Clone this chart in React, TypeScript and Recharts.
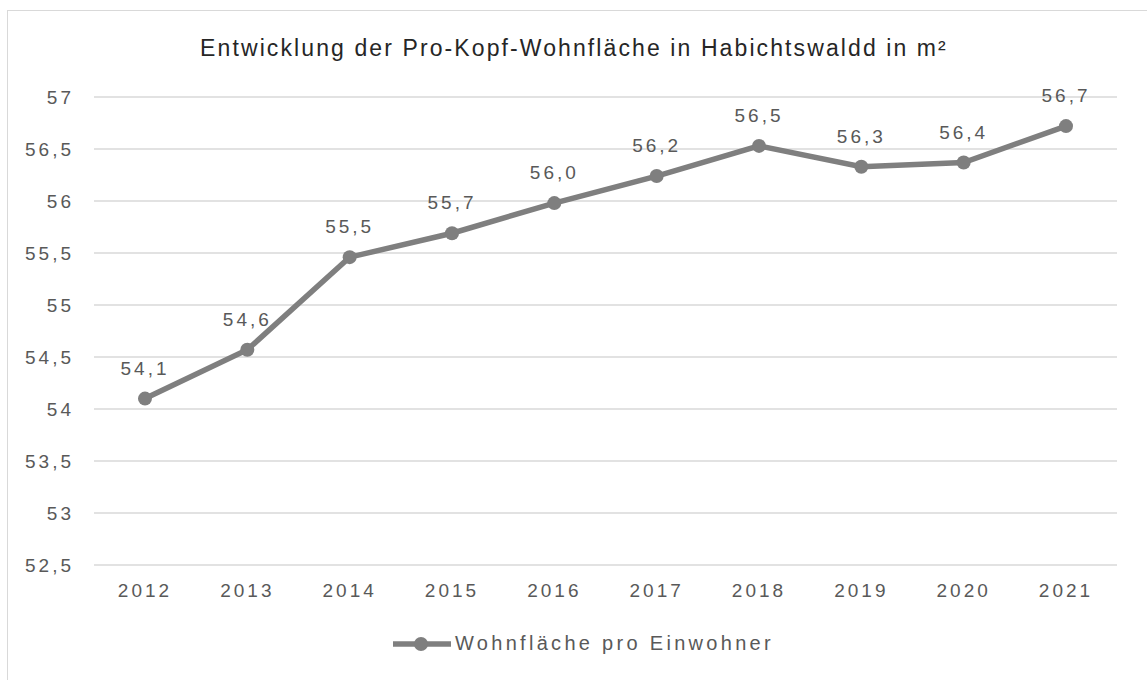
import { LineChart, Line, XAxis, YAxis, CartesianGrid, LabelList } from "recharts";

const jahre = ["2012", "2013", "2014", "2015", "2016", "2017", "2018", "2019", "2020", "2021"];
const wohnflaeche = [54.1, 54.57, 55.46, 55.69, 55.98, 56.24, 56.53, 56.33, 56.37, 56.72];
const yTicks = [52.5, 53, 53.5, 54, 54.5, 55, 55.5, 56, 56.5, 57];

const data = jahre.map((jahr, i) => ({ jahr, wert: wohnflaeche[i] }));

const GREY = "#7f7f7f";
const TEXT = "#595959";
const FONT = '"Liberation Sans", Arial, sans-serif';

const fmtAxis = (v: number) => String(v).replace(".", ",");
const fmtLabel = (v: number) => v.toFixed(1).replace(".", ",");

export default function App() {
  return (
    <div
      style={{
        position: "absolute",
        left: 7,
        top: 10,
        width: 1140,
        height: 670,
        borderTop: "1px solid #d9d9d9",
        borderLeft: "1px solid #d9d9d9",
        fontFamily: FONT,
        background: "#fff",
      }}
    >
      <style>{`
        .recharts-cartesian-axis-tick-value { letter-spacing: 3px; }
        .recharts-label-list text { letter-spacing: 3px; }
      `}</style>
      <div
        style={{
          position: "absolute",
          left: 0,
          width: 1132,
          top: 24,
          textAlign: "center",
          fontSize: 23,
          letterSpacing: 2.1,
          color: "#262626",
        }}
      >
        Entwicklung der Pro-Kopf-Wohnfläche in Habichtswaldd in m²
      </div>
      <LineChart
        width={1140}
        height={670}
        data={data}
        margin={{ top: 86, right: 31, left: 0, bottom: 76 }}
        style={{ fontFamily: FONT }}
      >
        <CartesianGrid vertical={false} stroke="#d9d9d9" strokeWidth={1.5} />
        <XAxis
          dataKey="jahr"
          axisLine={false}
          tickLine={false}
          height={40}
          tickMargin={13}
          padding={{ left: 51, right: 51 }}
          tick={{ fill: TEXT, fontSize: 19 }}
        />
        <YAxis
          domain={[52.5, 57]}
          ticks={yTicks}
          width={86}
          axisLine={false}
          tickLine={false}
          tickMargin={14}
          tickFormatter={fmtAxis}
          tick={{ fill: TEXT, fontSize: 19 }}
        />
        <Line
          dataKey="wert"
          stroke={GREY}
          strokeWidth={5.5}
          dot={{ r: 7, fill: GREY, stroke: GREY, strokeWidth: 0 }}
          activeDot={false}
          isAnimationActive={false}
        >
          <LabelList
            dataKey="wert"
            position="top"
            offset={24}
            formatter={(v: number) => fmtLabel(v)}
            fill={TEXT}
            fontSize={19}
          />
        </Line>
      </LineChart>
      <div
        style={{
          position: "absolute",
          top: 621,
          left: 385,
          display: "flex",
          alignItems: "center",
          color: TEXT,
          fontSize: 20,
          letterSpacing: 3.3,
        }}
      >
        <svg width={58} height={20} style={{ marginRight: 4 }}>
          <line x1={1} y1={10} x2={57} y2={10} stroke={GREY} strokeWidth={5.5} strokeLinecap="round" />
          <circle cx={28} cy={10} r={7} fill={GREY} />
        </svg>
        <span>Wohnfläche pro Einwohner</span>
      </div>
    </div>
  );
}
